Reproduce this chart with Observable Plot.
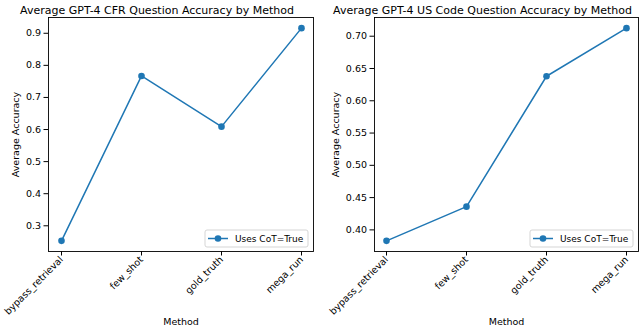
<!DOCTYPE html>
<html><head><meta charset="utf-8">
<script src="https://cdn.jsdelivr.net/npm/d3@7"></script>
<script src="https://cdn.jsdelivr.net/npm/@observablehq/plot@0.6"></script>
<style>
body{margin:0;background:#fff;}
#wrap{position:relative;width:640px;height:329px;overflow:hidden;font-family:"DejaVu Sans",sans-serif;}
.panel{position:absolute;top:0;width:320px;height:329px;}
</style></head><body><div id="wrap"></div>
<script>
const methods = ["bypass_retrieval", "few_shot", "gold_truth", "mega_run"];
const cfrAccuracy = [0.253, 0.767, 0.609, 0.916];
const uscodeAccuracy = [0.383, 0.436, 0.638, 0.7125];
const cfrTicks = [0.3, 0.4, 0.5, 0.6, 0.7, 0.8, 0.9];
const uscodeTicks = [0.40, 0.45, 0.50, 0.55, 0.60, 0.65, 0.70];
const panelTitles = ["Average GPT-4 CFR Question Accuracy by Method", "Average GPT-4 US Code Question Accuracy by Method"];
const legendLabel = "Uses CoT=True";
const xLabel = "Method";
const yLabel = "Average Accuracy";
const blue = "#1f77b4";

function makePanel(values, ticks, fmt, title, opts) {
  const data = methods.map((m, i) => ({method: m, acc: values[i]}));
  const lo = d3.min(values), hi = d3.max(values), pad = (hi - lo) * 0.05;
  const W = 320, H = 329, mT = 17, mB = 78;
  const plot = Plot.plot({
    width: W, height: H,
    marginLeft: opts.mL, marginRight: opts.mR, marginTop: mT, marginBottom: mB,
    style: {fontFamily: "DejaVu Sans, sans-serif", fontSize: "9.5px", color: "#000", background: "transparent", overflow: "visible"},
    x: {type: "point", domain: methods, padding: 0.15},
    y: {domain: [lo - pad, hi + pad]},
    marks: [
      Plot.axisY({ticks, tickFormat: d3.format(fmt), tickSize: 4.5, tickPadding: 3, label: yLabel, labelAnchor: "center", labelOffset: opts.yLabOff, labelArrow: "none", fontSize: 9.5}),
      Plot.axisX({tickSize: 4.5, tickRotate: -45, tickPadding: 2, label: xLabel, labelAnchor: "center", labelOffset: 73, labelArrow: "none", fontSize: 9.5}),
      Plot.line(data, {x: "method", y: "acc", stroke: blue, strokeWidth: 1.5}),
      Plot.dot(data, {x: "method", y: "acc", r: 3.3, fill: blue}),
      Plot.frame({stroke: "#000", strokeWidth: 0.9}),
      Plot.text([title], {frameAnchor: "top", dy: -11, dx: -24, fontSize: 11, fill: "#000"})
    ]
  });
  // legend (matplotlib style, lower right)
  const svg = d3.select(plot);
  const bw = 103, bh = 17;
  const bx = W - opts.mR - 5 - bw, by = H - mB - 4 - bh;
  const g = svg.append("g").attr("transform", `translate(${bx},${by})`).attr("text-anchor", "start");
  g.append("rect").attr("width", bw).attr("height", bh).attr("rx", 2)
    .attr("fill", "#fff").attr("fill-opacity", 0.8).attr("stroke", "#d0d0d0").attr("stroke-width", 0.9);
  g.append("line").attr("x1", 3).attr("x2", 23).attr("y1", bh / 2).attr("y2", bh / 2).attr("stroke", blue).attr("stroke-width", 1.5);
  g.append("circle").attr("cx", 13).attr("cy", bh / 2).attr("r", 3.3).attr("fill", blue);
  g.append("text").attr("x", 30).attr("y", bh / 2).attr("dy", "0.35em").attr("font-size", 9)
    .attr("text-anchor", "start")
    .attr("font-family", "DejaVu Sans, sans-serif").attr("fill", "#000").text(legendLabel);
  const div = document.createElement("div");
  div.className = "panel";
  div.style.left = opts.left + "px";
  div.appendChild(plot);
  return div;
}

const wrap = document.getElementById("wrap");
wrap.appendChild(makePanel(cfrAccuracy, cfrTicks, ".1f", panelTitles[0], {left: 0, mL: 48, mR: 7, yLabOff: 36}));
wrap.appendChild(makePanel(uscodeAccuracy, uscodeTicks, ".2f", panelTitles[1], {left: 320, mL: 54, mR: 2, yLabOff: 42}));
</script></body></html>
